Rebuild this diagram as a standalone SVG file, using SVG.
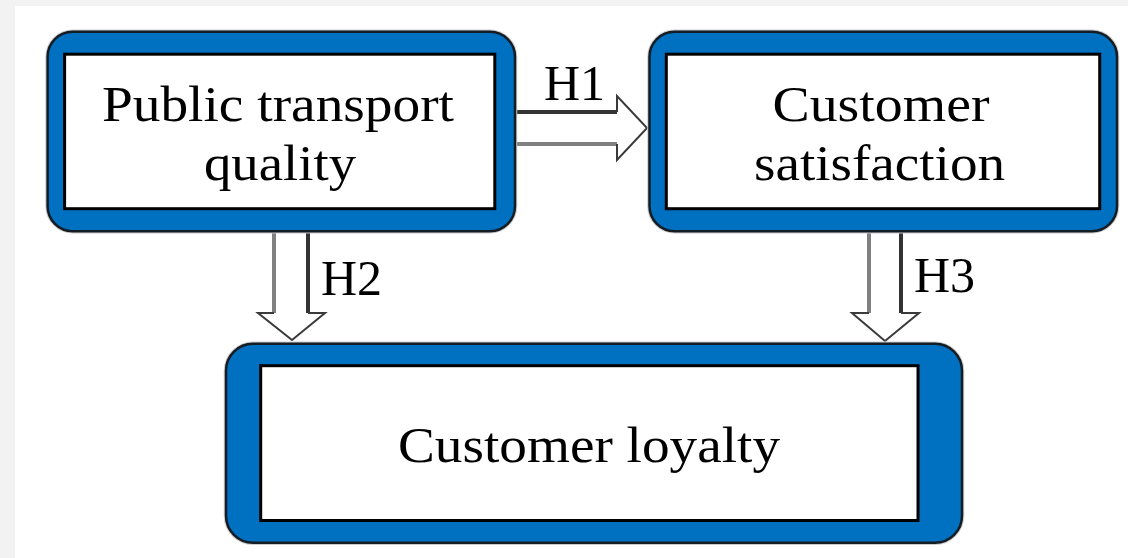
<svg xmlns="http://www.w3.org/2000/svg" width="1128" height="558" viewBox="0 0 1128 558">
  <style>
    .halo { fill: none; stroke: #cccccc; stroke-width: 4.5; }
    .frame { fill: #0070c0; stroke: #141c24; stroke-width: 2.5; }
    .core { fill: #ffffff; stroke: #000000; stroke-width: 3; }
    .label { font-family: "Liberation Serif", "Times New Roman", serif; font-size: 51px; fill: #000000; }
    .tag { font-family: "Liberation Serif", "Times New Roman", serif; font-size: 50px; fill: #000000; }
    .body { fill: #ffffff; stroke: none; }
    .dark { stroke: #333333; stroke-width: 4; fill: none; }
    .light { stroke: #808080; stroke-width: 4; fill: none; }
    .head { fill: #ffffff; stroke: #3a3a3a; stroke-width: 2; stroke-linejoin: miter; }
    .notch { fill: #1a5f96; }
  </style>

  <!-- page background and panel -->
  <rect x="0" y="0" width="1128" height="558" fill="#f2f2f2"/>
  <rect x="15" y="6" width="1113" height="552" fill="#ffffff"/>

  <!-- block arrows -->
  <g id="connectors">
    <!-- H1: quality -> satisfaction -->
    <g id="arrow-h1">
      <polygon class="body" points="516,112 617,112 617,96 647,128 617,160 617,144 516,144"/>
      <line class="dark" x1="516" y1="112" x2="618" y2="112"/>
      <line class="light" x1="516" y1="144" x2="618" y2="144"/>
      <polyline class="head" points="617,112 617,96 647,128 617,160 617,144"/>
    </g>
    <!-- H2: quality -> loyalty -->
    <g id="arrow-h2">
      <rect class="notch" x="273" y="228" width="35" height="5"/>
      <polygon class="body" points="274,233 308,233 308,313 325,313 292,340 258,313 274,313"/>
      <line class="light" x1="274" y1="233" x2="274" y2="314"/>
      <line class="dark" x1="308" y1="233" x2="308" y2="314"/>
      <polyline class="head" points="274,313 258,313 292,340 325,313 308,313"/>
    </g>
    <!-- H3: satisfaction -> loyalty -->
    <g id="arrow-h3">
      <rect class="notch" x="868" y="228" width="35" height="5"/>
      <polygon class="body" points="869,233 901,233 901,313 919,313 885,341 852,313 869,313"/>
      <line class="light" x1="869" y1="233" x2="869" y2="314"/>
      <line class="dark" x1="901" y1="233" x2="901" y2="314"/>
      <polyline class="head" points="869,313 852,313 885,341 919,313 901,313"/>
    </g>
    <text class="tag" x="544" y="100">H1</text>
    <text class="tag" x="321" y="295">H2</text>
    <text class="tag" x="914" y="292">H3</text>
  </g>

  <!-- node: public transport quality -->
  <g id="node-quality">
    <rect class="halo" x="47.6" y="31.7" width="467.4" height="199.6" rx="25"/>
    <rect class="frame" x="47.6" y="31.7" width="467.4" height="199.6" rx="25"/>
    <rect class="core" x="64.6" y="54.2" width="430.2" height="154.5"/>
    <text class="label" x="278" y="121" text-anchor="middle" textLength="352" lengthAdjust="spacingAndGlyphs">Public transport</text>
    <text class="label" x="280" y="180" text-anchor="middle" textLength="152" lengthAdjust="spacingAndGlyphs">quality</text>
  </g>

  <!-- node: customer satisfaction -->
  <g id="node-satisfaction">
    <rect class="halo" x="649.5" y="31.7" width="467.5" height="199.6" rx="25"/>
    <rect class="frame" x="649.5" y="31.7" width="467.5" height="199.6" rx="25"/>
    <rect class="core" x="666.3" y="54.2" width="433.4" height="154.5"/>
    <text class="label" x="881" y="121" text-anchor="middle" textLength="217" lengthAdjust="spacingAndGlyphs">Customer</text>
    <text class="label" x="879.5" y="180" text-anchor="middle" textLength="251" lengthAdjust="spacingAndGlyphs">satisfaction</text>
  </g>

  <!-- node: customer loyalty -->
  <g id="node-loyalty">
    <rect class="halo" x="226" y="343.7" width="736" height="199" rx="27"/>
    <rect class="frame" x="226" y="343.7" width="736" height="199" rx="27"/>
    <rect class="core" x="260.7" y="365.7" width="657.3" height="154.8"/>
    <text class="label" x="589" y="462" text-anchor="middle" textLength="382" lengthAdjust="spacingAndGlyphs">Customer loyalty</text>
  </g>
</svg>
